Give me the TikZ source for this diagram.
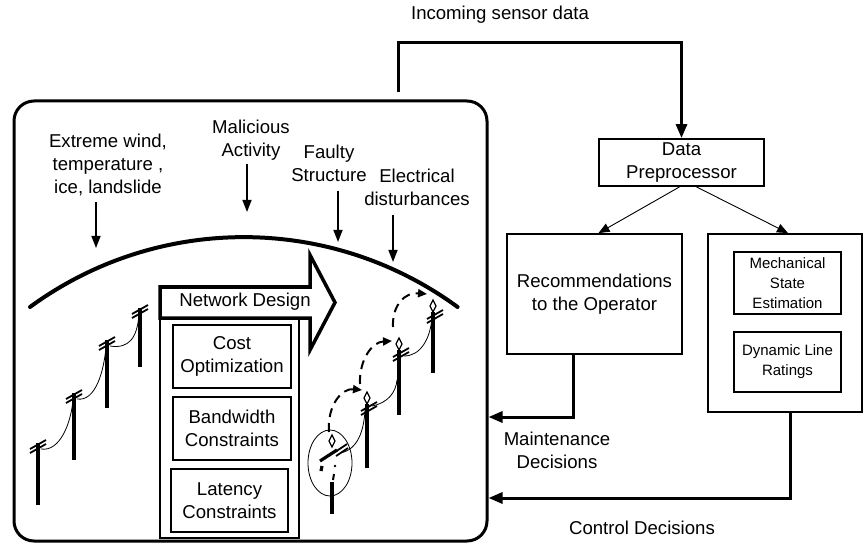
\documentclass[tikz,border=0pt]{standalone}
\usepackage{fontspec}
\setmainfont{Liberation Sans}
\usetikzlibrary{arrows.meta}

\tikzset{
  txt/.style={font=\fontsize{18.6}{23}\selectfont, align=center, inner sep=0pt},
  small/.style={font=\fontsize{15}{20}\selectfont, align=center, inner sep=0pt},
  box/.style={draw, line width=1.8pt, inner sep=0pt, txt},
  flow/.style={line width=3pt, -{Triangle[length=14pt,width=11pt]}},
  feed/.style={line width=0.9pt, -{Triangle[length=11pt,width=9pt]}},
  hazard/.style={line width=1.6pt, -{Triangle[length=12pt,width=9pt]}},
  pole/.style={line width=3.2pt},
  arm/.style={line width=1.8pt},
  wire/.style={line width=0.8pt},
  hop/.style={line width=2pt, dash pattern=on 9pt off 6pt, -{Triangle[length=9pt,width=8pt]}},
}

\begin{document}
\begin{tikzpicture}[x=1pt,y=-1pt]
	\useasboundingbox (0,0) rectangle (867,545);

	% the monitored line section
	\node[draw, line width=3pt, rounded corners=20pt, minimum width=473, minimum height=440] (grid) at (250.5,321) {};
	\draw[line width=4pt, line cap=round] (30,307) arc[start angle=233.8, end angle=306.2, radius=362];

	% threats
	\node[txt] (wind) at (108,165) {Extreme wind,\\temperature ,\\ice, landslide};
	\node[txt] (attack) at (251,140) {Malicious\\Activity};
	\node[txt] (fault) at (329,163) {Faulty\\Structure};
	\node[txt] (elec) at (417,187) {Electrical\\disturbances};
	\coordinate (windtip) at (96,248);
	\coordinate (attacktip) at (247,212);
	\coordinate (faulttip) at (338,242);
	\coordinate (electip) at (393,262);
	\draw[hazard] (windtip |- wind.south) ++(0,6) -- (windtip);
	\draw[hazard] (attacktip |- attack.south) ++(0,4) -- (attacktip);
	\draw[hazard] (faulttip |- fault.south) ++(0,9) -- (faulttip);
	\draw[hazard] (electip |- elec.south) ++(0,9) -- (electip);

	% network design stack
	\node[box, line width=1.5pt, minimum width=139, minimum height=220] (stack) at (229.5,428) {};
	\draw[line width=3.5pt, fill=white] (160,287) -- (310,287) -- (310,255) -- (335,302.5)
		-- (310,350) -- (310,318) -- (160,318) -- cycle;
	\node[txt] (design) at (245,302) {Network Design};
	\node[box, minimum width=118, minimum height=63] (cost) at (232,356.5) {Cost\\Optimization};
	\node[box, minimum width=118, minimum height=63] (band) at (232,428.5) {Bandwidth\\Constraints};
	\node[box, minimum width=117, minimum height=63] (lat) at (229.5,500.5) {Latency\\Constraints};

	% poles on the left
	\foreach \x/\t/\b in {38/443/505, 74/393/460, 107/340/408, 140/308/367}{
		\draw[pole] (\x,\t) -- (\x,\b);
		\draw[arm] (\x-8,\t+6) -- (\x+8,\t-3) (\x-8,\t+10) -- (\x+8,\t+1);
	}
	\foreach \xa/\ta/\xb/\tb in {38/443/74/393, 74/393/107/340, 107/340/140/308}
		\draw[wire] (\xa+3,\ta+6) .. controls (\xa+22,\ta+9) and (\xb-3,\tb+30) .. (\xb-1,\tb+7);

	% poles on the right, the first one broken
	\foreach \x/\t/\b in {367/392/468, 399/338/415, 433/300/373}{
		\draw[line width=1.3pt] (\x,\t) -- (\x+3,\t+6) -- (\x,\t+12) -- (\x-3,\t+6) -- cycle;
		\draw[pole] (\x,\t+12) -- (\x,\b);
		\draw[arm] (\x-6,\t+19) -- (\x+10,\t+10) (\x-6,\t+23) -- (\x+10,\t+14);
	}
	\draw[line width=1.3pt] (332,435) -- (335,441) -- (332,447) -- (329,441) -- cycle;
	\draw[arm] (335,452) -- (347,444) (336,456) -- (348,448);
	\draw[pole] (320,461) -- (337,450);
	\draw[pole] (322,466) -- (321,471);
	\fill (335,466) circle (1.3);
	\draw[line width=2pt] (334,474) -- (333,480);
	\draw[pole] (332,482) -- (332,514);
	\draw[line width=0.8pt] (330,463) ellipse (22 and 33);
	\draw[wire] (340,453) .. controls (358,450) and (364,430) .. (365,410);
	\draw[wire] (372,406) .. controls (388,403) and (396,392) .. (397,380);
	\draw[wire] (404,356) .. controls (420,356) and (430,340) .. (432,318);
	\draw[hop] (329,432) .. controls (327,405) and (342,388) .. (362,390);
	\draw[hop] (360,384) .. controls (359,360) and (372,342) .. (392,341);
	\draw[hop] (393,327) .. controls (392,305) and (405,292) .. (427,294);

	% processing side
	\node[box, minimum width=165, minimum height=47] (prep) at (681.5,162.5) {Data\\Preprocessor};
	\node[box, minimum width=175, minimum height=120] (reco) at (594.5,294) {Recommendations\\to the Operator};
	\node[box, minimum width=154, minimum height=178] (est) at (785,323) {};
	\node[box, line width=1.5pt, small, minimum width=107, minimum height=62] (mech) at (787.5,283) {Mechanical\\State\\Estimation};
	\node[box, line width=1.5pt, small, minimum width=107, minimum height=60] (dlr) at (787.5,362) {Dynamic Line\\Ratings};

	\coordinate (tap) at (398,92);
	\node[txt] (sensor) at (500,15) {Incoming sensor data};
	\draw[flow] (tap) -- ++(0,-49) -| (prep.north);
	\draw[feed] ([xshift=-2pt]prep.south) -- ([xshift=4pt]reco.north);
	\draw[feed] ([xshift=15pt]prep.south) -- ([xshift=3pt]est.north);

	\node[txt] (maint) at (557,450) {Maintenance\\Decisions};
	\node[txt] (ctrl) at (642,528) {Control Decisions};
	\draw[flow] ([xshift=-21.5pt]reco.south) |- (grid.east |- 0,417);
	\draw[flow] ([xshift=5pt]est.south) |- (grid.east |- 0,498);
\end{tikzpicture}
\end{document}
